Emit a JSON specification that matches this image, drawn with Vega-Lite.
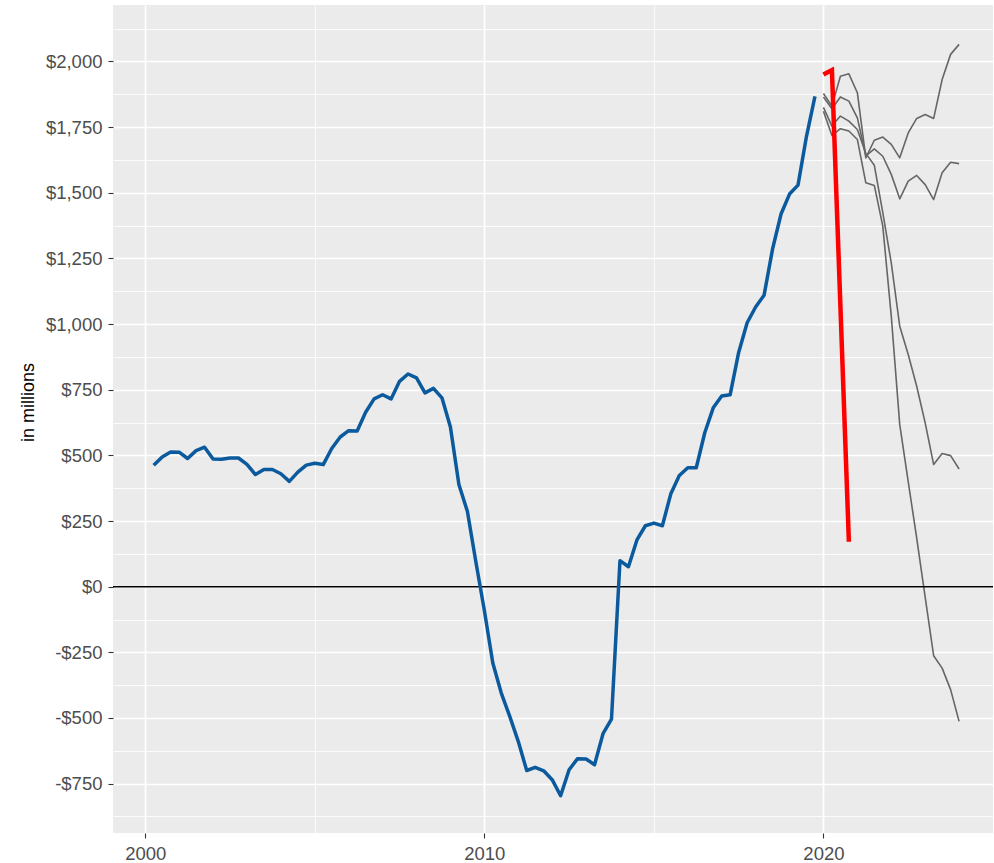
{
  "$schema": "https://vega.github.io/schema/vega-lite/v6.json",
  "width": 880,
  "height": 828,
  "autosize": {"type": "none"},
  "padding": {"left": 113, "top": 5, "right": 1, "bottom": 30},
  "background": "white",
  "config": {"view": {"fill": "#EBEBEB", "stroke": null}, "font": "Liberation Sans"},
  "datasets": {
    "hist": [
      {"t": 2000.25, "v": 462}, {"t": 2000.5, "v": 494}, {"t": 2000.75, "v": 513}, {"t": 2001.0, "v": 512},
      {"t": 2001.25, "v": 488}, {"t": 2001.5, "v": 518}, {"t": 2001.75, "v": 531}, {"t": 2002.0, "v": 486},
      {"t": 2002.25, "v": 485}, {"t": 2002.5, "v": 490}, {"t": 2002.75, "v": 490}, {"t": 2003.0, "v": 466},
      {"t": 2003.25, "v": 427}, {"t": 2003.5, "v": 446}, {"t": 2003.75, "v": 446}, {"t": 2004.0, "v": 430},
      {"t": 2004.25, "v": 401}, {"t": 2004.5, "v": 436}, {"t": 2004.75, "v": 463}, {"t": 2005.0, "v": 470},
      {"t": 2005.25, "v": 465}, {"t": 2005.5, "v": 526}, {"t": 2005.75, "v": 570}, {"t": 2006.0, "v": 594},
      {"t": 2006.25, "v": 593}, {"t": 2006.5, "v": 664}, {"t": 2006.75, "v": 715}, {"t": 2007.0, "v": 731},
      {"t": 2007.25, "v": 715}, {"t": 2007.5, "v": 782}, {"t": 2007.75, "v": 810}, {"t": 2008.0, "v": 795},
      {"t": 2008.25, "v": 738}, {"t": 2008.5, "v": 755}, {"t": 2008.75, "v": 719}, {"t": 2009.0, "v": 608},
      {"t": 2009.25, "v": 389}, {"t": 2009.5, "v": 287}, {"t": 2009.75, "v": 95}, {"t": 2010.0, "v": -90},
      {"t": 2010.25, "v": -291}, {"t": 2010.5, "v": -405}, {"t": 2010.75, "v": -494}, {"t": 2011.0, "v": -589},
      {"t": 2011.25, "v": -700}, {"t": 2011.5, "v": -688}, {"t": 2011.75, "v": -701}, {"t": 2012.0, "v": -735},
      {"t": 2012.25, "v": -796}, {"t": 2012.5, "v": -697}, {"t": 2012.75, "v": -655}, {"t": 2013.0, "v": -656},
      {"t": 2013.25, "v": -678}, {"t": 2013.5, "v": -560}, {"t": 2013.75, "v": -504}, {"t": 2014.0, "v": 99},
      {"t": 2014.25, "v": 76}, {"t": 2014.5, "v": 178}, {"t": 2014.75, "v": 232}, {"t": 2015.0, "v": 242},
      {"t": 2015.25, "v": 232}, {"t": 2015.5, "v": 354}, {"t": 2015.75, "v": 423}, {"t": 2016.0, "v": 453},
      {"t": 2016.25, "v": 453}, {"t": 2016.5, "v": 586}, {"t": 2016.75, "v": 681}, {"t": 2017.0, "v": 726},
      {"t": 2017.25, "v": 731}, {"t": 2017.5, "v": 892}, {"t": 2017.75, "v": 1005}, {"t": 2018.0, "v": 1065},
      {"t": 2018.25, "v": 1110}, {"t": 2018.5, "v": 1286}, {"t": 2018.75, "v": 1419}, {"t": 2019.0, "v": 1495},
      {"t": 2019.25, "v": 1529}, {"t": 2019.5, "v": 1715}, {"t": 2019.75, "v": 1867}
    ],
    "red": [
      {"t": 2020.0, "v": 1950}, {"t": 2020.25, "v": 1967}, {"t": 2020.75, "v": 171}
    ],
    "scen": [
      {"s": "A", "t": 2020.0, "v": 1878}, {"s": "A", "t": 2020.25, "v": 1830}, {"s": "A", "t": 2020.5, "v": 1944},
      {"s": "A", "t": 2020.75, "v": 1953}, {"s": "A", "t": 2021.0, "v": 1881}, {"s": "A", "t": 2021.25, "v": 1633},
      {"s": "A", "t": 2021.5, "v": 1700}, {"s": "A", "t": 2021.75, "v": 1712}, {"s": "A", "t": 2022.0, "v": 1684},
      {"s": "A", "t": 2022.25, "v": 1633}, {"s": "A", "t": 2022.5, "v": 1728}, {"s": "A", "t": 2022.75, "v": 1783},
      {"s": "A", "t": 2023.0, "v": 1798}, {"s": "A", "t": 2023.25, "v": 1783}, {"s": "A", "t": 2023.5, "v": 1931},
      {"s": "A", "t": 2023.75, "v": 2027}, {"s": "A", "t": 2024.0, "v": 2065},
      {"s": "B", "t": 2020.0, "v": 1865}, {"s": "B", "t": 2020.25, "v": 1820}, {"s": "B", "t": 2020.5, "v": 1865},
      {"s": "B", "t": 2020.75, "v": 1849}, {"s": "B", "t": 2021.0, "v": 1785}, {"s": "B", "t": 2021.25, "v": 1640},
      {"s": "B", "t": 2021.5, "v": 1667}, {"s": "B", "t": 2021.75, "v": 1639}, {"s": "B", "t": 2022.0, "v": 1570},
      {"s": "B", "t": 2022.25, "v": 1477}, {"s": "B", "t": 2022.5, "v": 1544}, {"s": "B", "t": 2022.75, "v": 1566},
      {"s": "B", "t": 2023.0, "v": 1531}, {"s": "B", "t": 2023.25, "v": 1474}, {"s": "B", "t": 2023.5, "v": 1576},
      {"s": "B", "t": 2023.75, "v": 1616}, {"s": "B", "t": 2024.0, "v": 1611},
      {"s": "C", "t": 2020.0, "v": 1825}, {"s": "C", "t": 2020.25, "v": 1754}, {"s": "C", "t": 2020.5, "v": 1792},
      {"s": "C", "t": 2020.75, "v": 1773}, {"s": "C", "t": 2021.0, "v": 1741}, {"s": "C", "t": 2021.25, "v": 1650},
      {"s": "C", "t": 2021.5, "v": 1605}, {"s": "C", "t": 2021.75, "v": 1424}, {"s": "C", "t": 2022.0, "v": 1233},
      {"s": "C", "t": 2022.25, "v": 992}, {"s": "C", "t": 2022.5, "v": 884}, {"s": "C", "t": 2022.75, "v": 763},
      {"s": "C", "t": 2023.0, "v": 624}, {"s": "C", "t": 2023.25, "v": 465}, {"s": "C", "t": 2023.5, "v": 507},
      {"s": "C", "t": 2023.75, "v": 499}, {"s": "C", "t": 2024.0, "v": 448},
      {"s": "D", "t": 2020.0, "v": 1810}, {"s": "D", "t": 2020.25, "v": 1718}, {"s": "D", "t": 2020.5, "v": 1744},
      {"s": "D", "t": 2020.75, "v": 1735}, {"s": "D", "t": 2021.0, "v": 1703}, {"s": "D", "t": 2021.25, "v": 1538},
      {"s": "D", "t": 2021.5, "v": 1528}, {"s": "D", "t": 2021.75, "v": 1373}, {"s": "D", "t": 2022.0, "v": 1030},
      {"s": "D", "t": 2022.25, "v": 617}, {"s": "D", "t": 2022.5, "v": 400}, {"s": "D", "t": 2022.75, "v": 185},
      {"s": "D", "t": 2023.0, "v": -40}, {"s": "D", "t": 2023.25, "v": -263}, {"s": "D", "t": 2023.5, "v": -310},
      {"s": "D", "t": 2023.75, "v": -392}, {"s": "D", "t": 2024.0, "v": -513}
    ],
    "zero": [{"v": 0}]
  },
  "resolve": {"axis": {"y": "independent"}},
  "layer": [
    {
      "data": {"name": "zero"},
      "mark": {"type": "rule", "opacity": 0},
      "encoding": {
        "y": {
          "field": "v", "type": "quantitative",
          "scale": {"domain": [-938, 2215], "nice": false, "zero": false},
          "axis": {
            "orient": "right",
            "title": null,
            "values": [-875, -625, -375, -125, 125, 375, 625, 875, 1125, 1375, 1625, 1875, 2125],
            "labels": false,
            "ticks": false,
            "domain": false,
            "grid": true,
            "gridColor": "#FFFFFF",
            "gridWidth": 0.8
          }
        }
      }
    },
    {
      "data": {"name": "scen"},
      "mark": {"type": "line", "color": "#666666", "strokeWidth": 1.6, "strokeJoin": "round"},
      "encoding": {
        "x": {
          "field": "t", "type": "quantitative",
          "scale": {"domain": [1999.05, 2025.0], "nice": false, "zero": false},
          "axis": {
            "title": null,
            "values": [2000, 2005, 2010, 2015, 2020],
            "labelExpr": "datum.value % 10 == 0 ? format(datum.value, 'd') : ''",
            "labelOverlap": false,
            "labelFlush": false,
            "grid": true,
            "gridColor": "#FFFFFF",
            "gridWidth": {"condition": {"test": "datum.value % 10 == 0", "value": 1.7}, "value": 0.8},
            "domain": false,
            "tickSize": 5,
            "tickWidth": 1.1,
            "tickColor": {"condition": {"test": "datum.value % 10 == 0", "value": "#333333"}, "value": "transparent"},
            "labelFont": "Liberation Sans",
            "labelFontSize": 18.5,
            "labelColor": "#4D4D4D",
            "labelPadding": 6
          }
        },
        "y": {
          "field": "v", "type": "quantitative",
          "axis": {
            "orient": "left",
            "title": "in millions",
            "titleFont": "Liberation Sans",
            "titleFontSize": 18,
            "titleFontWeight": "normal",
            "titleColor": "#000000",
            "titleX": -76,
            "titleY": 397,
            "values": [-750, -500, -250, 0, 250, 500, 750, 1000, 1250, 1500, 1750, 2000],
            "labelExpr": "datum.value < 0 ? \"-$\" + format(-datum.value, ',') : \"$\" + format(datum.value, ',')",
            "labelOverlap": false,
            "labelFlush": false,
            "grid": true,
            "gridColor": "#FFFFFF",
            "gridWidth": 1.7,
            "domain": false,
            "tickSize": 5,
            "tickWidth": 1.1,
            "tickColor": "#333333",
            "labelFont": "Liberation Sans",
            "labelFontSize": 18.5,
            "labelColor": "#4D4D4D",
            "labelPadding": 6
          }
        },
        "detail": {"field": "s", "type": "nominal"}
      }
    },
    {
      "data": {"name": "zero"},
      "mark": {"type": "rule", "color": "#000000", "strokeWidth": 1.5},
      "encoding": {"y": {"field": "v", "type": "quantitative", "axis": null}}
    },
    {
      "data": {"name": "hist"},
      "mark": {"type": "line", "color": "#0B5A9E", "strokeWidth": 3.5, "strokeJoin": "round"},
      "encoding": {
        "x": {"field": "t", "type": "quantitative"},
        "y": {"field": "v", "type": "quantitative", "axis": null}
      }
    },
    {
      "data": {"name": "red"},
      "mark": {"type": "line", "color": "#FF0000", "strokeWidth": 4.5, "strokeJoin": "miter"},
      "encoding": {
        "x": {"field": "t", "type": "quantitative"},
        "y": {"field": "v", "type": "quantitative", "axis": null}
      }
    }
  ]
}
